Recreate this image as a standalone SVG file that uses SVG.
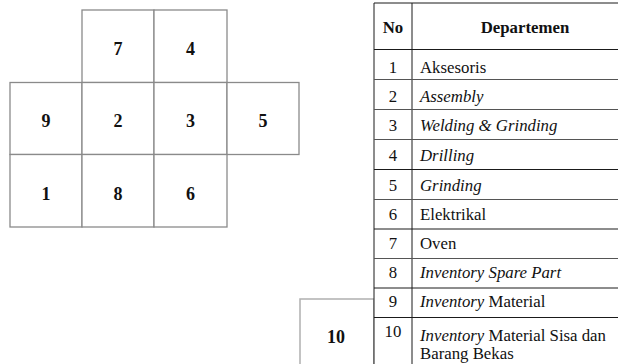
<svg xmlns="http://www.w3.org/2000/svg" width="618" height="364" viewBox="0 0 618 364">
  <style>
    .cell { fill: #ffffff; stroke: #8a8a8a; stroke-width: 1.3; }
    .cell10 { fill: #ffffff; stroke: #b0b0b0; stroke-width: 1.5; }
    .num { font-family: "Liberation Serif", "Times New Roman", serif; font-weight: bold; font-size: 18px; fill: #111; text-anchor: middle; }
    .tline { stroke: #1a1a1a; stroke-width: 1; }
    .hline { stroke: #555; stroke-width: 1.2; }
    .th { font-family: "Liberation Serif", "Times New Roman", serif; font-weight: bold; font-size: 16.8px; fill: #111; }
    .td { font-family: "Liberation Serif", "Times New Roman", serif; font-size: 16.8px; fill: #111; }
    .it { font-style: italic; }
    .c { text-anchor: middle; }
  </style>

  <!-- Layout blocks -->
  <g id="blocks">
    <g id="block-7"><rect class="cell" x="82" y="10" width="72" height="72.5"/><text class="num" x="118" y="55">7</text></g>
    <g id="block-4"><rect class="cell" x="154" y="10" width="73" height="72.5"/><text class="num" x="190.5" y="55">4</text></g>
    <g id="block-9"><rect class="cell" x="10" y="82.5" width="72" height="72"/><text class="num" x="46" y="127">9</text></g>
    <g id="block-2"><rect class="cell" x="82" y="82.5" width="72" height="72"/><text class="num" x="118" y="127">2</text></g>
    <g id="block-3"><rect class="cell" x="154" y="82.5" width="73" height="72"/><text class="num" x="190.5" y="127">3</text></g>
    <g id="block-5"><rect class="cell" x="227" y="82.5" width="72" height="72"/><text class="num" x="263" y="127">5</text></g>
    <g id="block-1"><rect class="cell" x="10" y="154.5" width="72" height="72.5"/><text class="num" x="46" y="199.5">1</text></g>
    <g id="block-8"><rect class="cell" x="82" y="154.5" width="72" height="72.5"/><text class="num" x="118" y="199.5">8</text></g>
    <g id="block-6"><rect class="cell" x="154" y="154.5" width="73" height="72.5"/><text class="num" x="190.5" y="199.5">6</text></g>
    <g id="block-10"><rect class="cell10" x="300" y="299" width="74" height="80"/><text class="num" x="336" y="343">10</text></g>
  </g>

  <!-- Department legend table -->
  <g id="legend">
    <rect x="374" y="3" width="260" height="370" fill="#ffffff"/>
    <line class="tline" x1="374" y1="3" x2="618" y2="3"/>
    <line class="tline" x1="374" y1="3" x2="374" y2="364"/>
    <line class="tline" x1="412" y1="3" x2="412" y2="364"/>
    <line class="tline" x1="374" y1="49.5" x2="618" y2="49.5"/>
    <line class="hline" x1="374" y1="79.5" x2="618" y2="79.5"/>
    <line class="hline" x1="374" y1="109.5" x2="618" y2="109.5"/>
    <line class="hline" x1="374" y1="139.5" x2="618" y2="139.5"/>
    <line class="tline" x1="374" y1="169.5" x2="618" y2="169.5"/>
    <line class="hline" x1="374" y1="199.5" x2="618" y2="199.5"/>
    <line class="tline" x1="374" y1="229" x2="618" y2="229"/>
    <line class="hline" x1="374" y1="258.5" x2="618" y2="258.5"/>
    <line class="tline" x1="374" y1="288" x2="618" y2="288"/>
    <line class="tline" x1="374" y1="317.5" x2="618" y2="317.5"/>

    <text class="th c" x="393" y="33">No</text>
    <text class="th c" x="525" y="33">Departemen</text>

    <text class="td c" x="393" y="73">1</text><text class="td" x="420" y="73">Aksesoris</text>
    <text class="td c" x="393" y="102">2</text><text class="td it" x="420" y="102">Assembly</text>
    <text class="td c" x="393" y="131">3</text><text class="td it" x="420" y="131">Welding &amp; Grinding</text>
    <text class="td c" x="393" y="160.5">4</text><text class="td it" x="420" y="160.5">Drilling</text>
    <text class="td c" x="393" y="191">5</text><text class="td it" x="420" y="191">Grinding</text>
    <text class="td c" x="393" y="220">6</text><text class="td" x="420" y="220">Elektrikal</text>
    <text class="td c" x="393" y="248.5">7</text><text class="td" x="420" y="248.5">Oven</text>
    <text class="td c" x="393" y="277.5">8</text><text class="td it" x="420" y="277.5">Inventory Spare Part</text>
    <text class="td c" x="393" y="307">9</text><text class="td" x="420" y="307"><tspan class="it">Inventory</tspan> Material</text>
    <text class="td c" x="393" y="337">10</text>
    <text class="td" x="420" y="341"><tspan class="it">Inventory</tspan> Material Sisa dan</text>
    <text class="td" x="420" y="359">Barang Bekas</text>
  </g>
</svg>
